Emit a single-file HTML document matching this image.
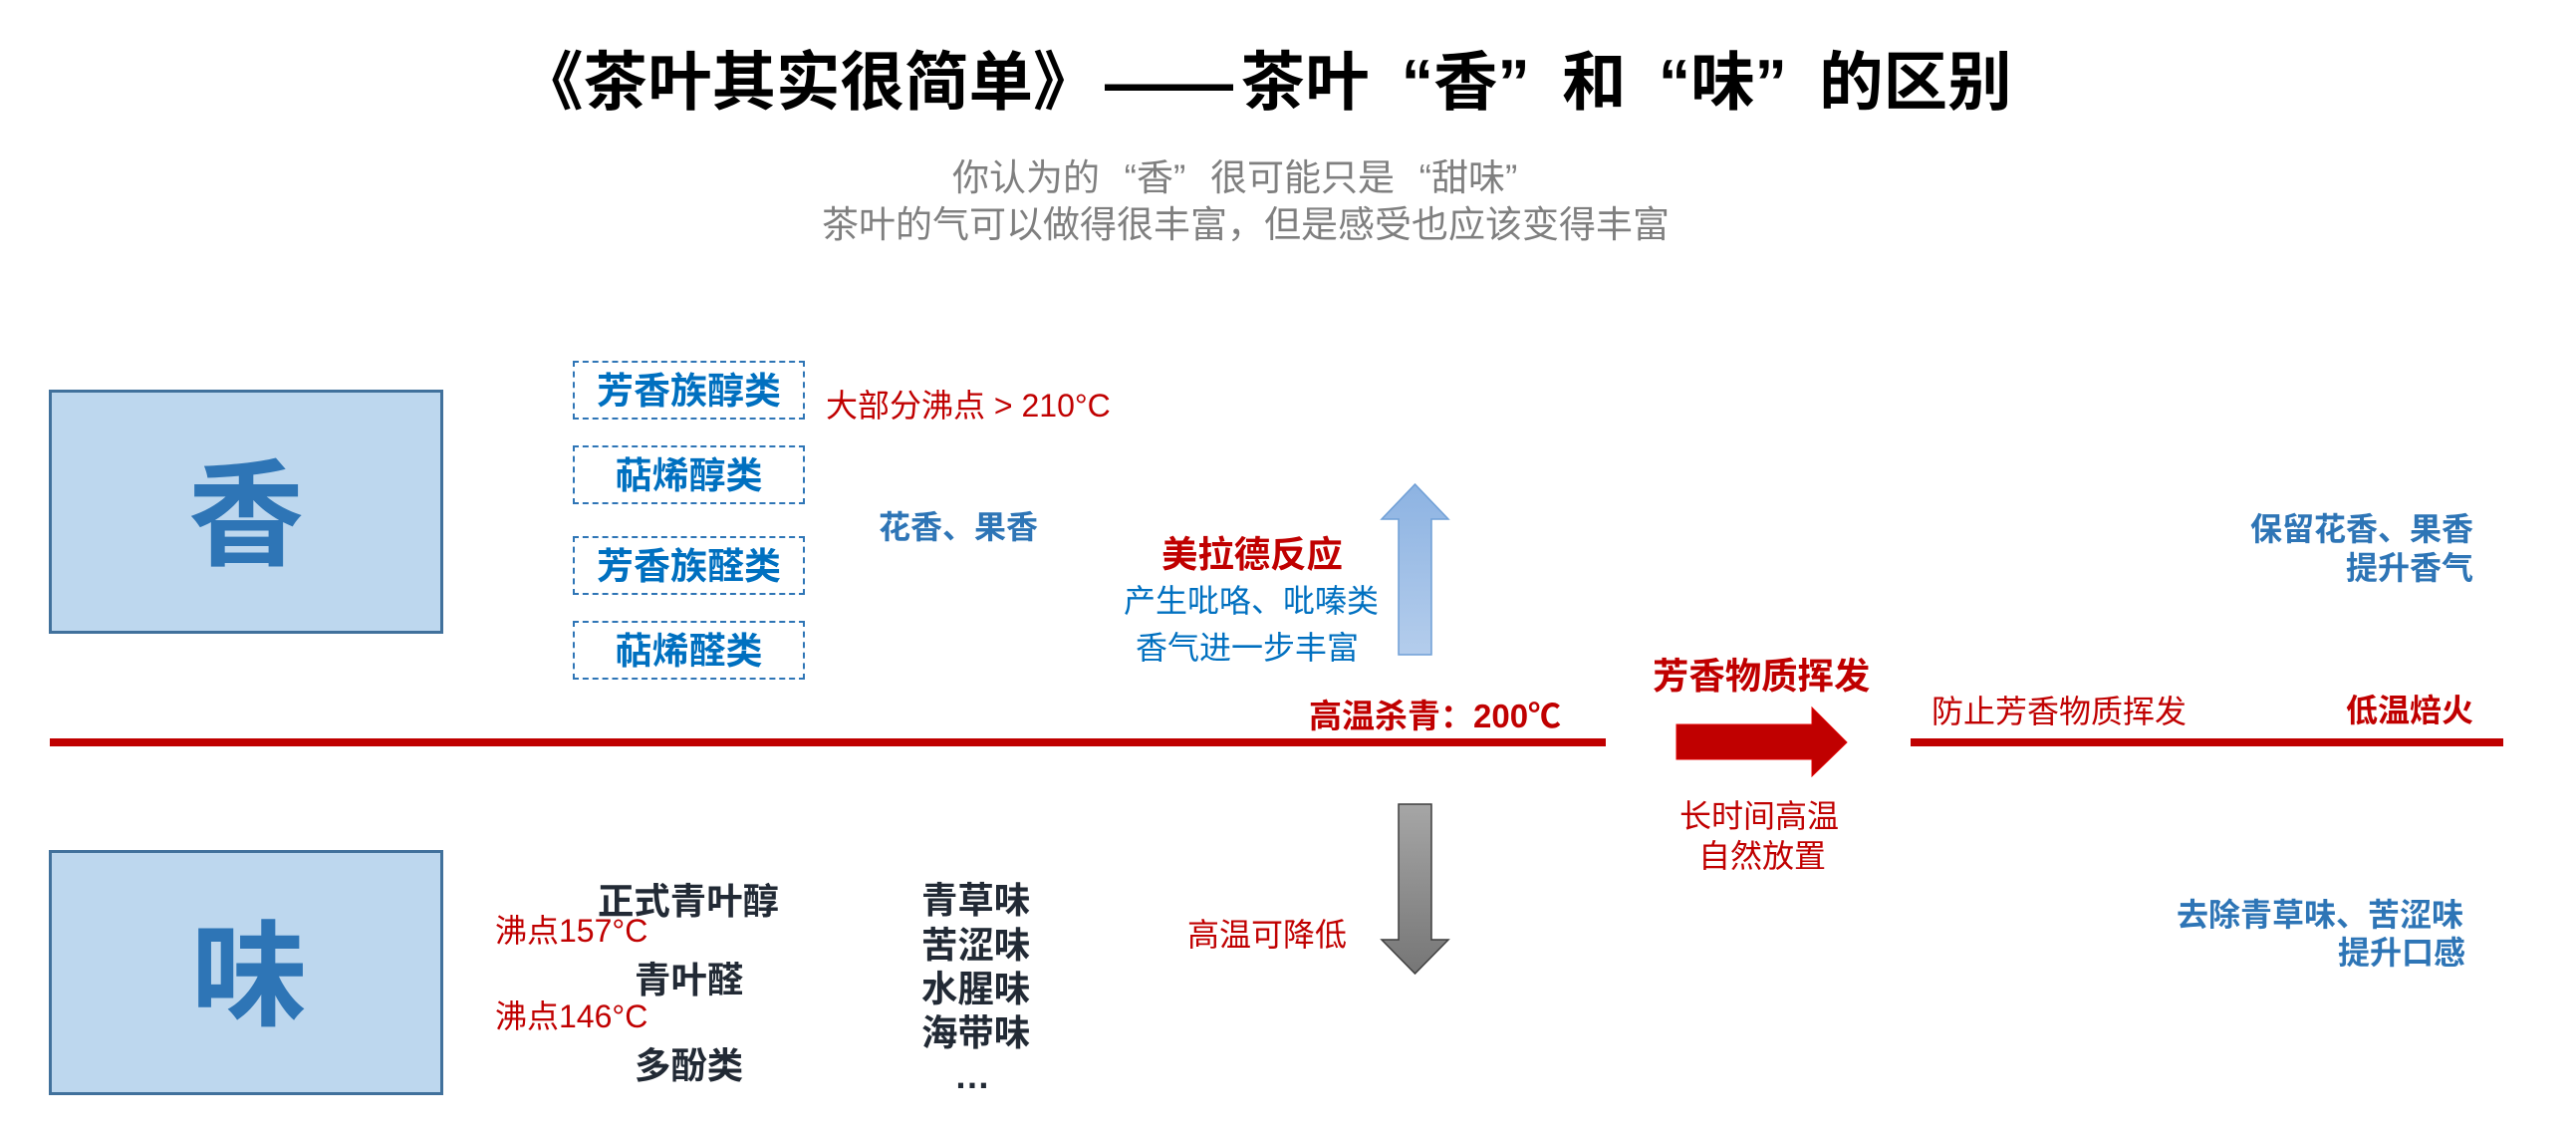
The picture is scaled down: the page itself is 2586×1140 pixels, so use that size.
<!DOCTYPE html>
<html><head><meta charset="utf-8">
<style>
html,body{margin:0;padding:0;background:#fff;}
#c{position:relative;width:2586px;height:1140px;overflow:hidden;background:#fff;font-family:"Liberation Sans","Noto Sans CJK SC",sans-serif;}
.t{position:absolute;white-space:nowrap;line-height:1;}
.b{font-weight:bold;}
.red{color:#c00000;}
.blu{color:#0070c0;}
.blu2{color:#2e75b6;}
.dk{color:#222a35;}
.f32{font-size:32px;}
.f36{font-size:36.4px;}
.ql{display:inline-block;width:1em;text-align:right;}
.qr{display:inline-block;width:1em;text-align:left;}
.box{position:absolute;box-sizing:border-box;background:#bdd7ee;border:3px solid #41719c;}
.db{position:absolute;box-sizing:border-box;border:2px dashed #2e75b6;width:233px;height:59px;left:575px;}
.dt{position:absolute;left:575px;width:233px;text-align:center;font-size:37px;font-weight:bold;color:#0070c0;line-height:1;white-space:nowrap;}
</style></head>
<body><div id="c">

<!-- Title -->
<div class="t b" style="left:521px;top:51px;font-size:64.5px;color:#000;">《茶叶其实很简单》<span style="display:inline-block;width:144px;text-align:center;">——</span>茶叶<span class="ql">“</span>香<span class="qr">”</span>和<span class="ql">“</span>味<span class="qr">”</span>的区别</div>

<!-- Subtitle -->
<div class="t" style="left:956px;top:160px;font-size:37px;color:#7f7f7f;">你认为的<span class="ql">“</span>香<span class="qr">”</span>很可能只是<span class="ql">“</span>甜味<span class="qr">”</span></div>
<div class="t" style="left:825px;top:207px;font-size:37px;color:#7f7f7f;">茶叶的气可以做得很丰富，但是感受也应该变得丰富</div>

<!-- Big boxes -->
<div class="box" style="left:49px;top:391px;width:396px;height:245px;"></div>
<div class="t b blu2" style="left:189px;top:460px;font-size:116px;">香</div>
<div class="box" style="left:49px;top:853px;width:396px;height:246px;"></div>
<div class="t b blu2" style="left:192px;top:922px;font-size:116px;">味</div>

<!-- Dashed boxes -->
<div class="db" style="top:362px;"></div>
<div class="dt" style="top:374px;">芳香族醇类</div>
<div class="db" style="top:447px;"></div>
<div class="dt" style="top:459px;">萜烯醇类</div>
<div class="db" style="top:538px;"></div>
<div class="dt" style="top:550px;">芳香族醛类</div>
<div class="db" style="top:623px;"></div>
<div class="dt" style="top:635px;">萜烯醛类</div>

<div class="t f32 red" style="left:829px;top:391px;">大部分沸点 &gt; 210°C</div>
<div class="t f32 b blu2" style="left:882px;top:513px;">花香、果香</div>

<!-- Shapes -->
<svg style="position:absolute;left:0;top:0;" width="2586" height="1140" viewBox="0 0 2586 1140">
  <defs>
    <linearGradient id="gu" x1="0" y1="0" x2="0" y2="1">
      <stop offset="0" stop-color="#8db3e2"/>
      <stop offset="1" stop-color="#b4cdec"/>
    </linearGradient>
    <linearGradient id="gd" x1="0" y1="0" x2="0" y2="1">
      <stop offset="0" stop-color="#a6a6a6"/>
      <stop offset="1" stop-color="#767676"/>
    </linearGradient>
  </defs>
  <rect x="50" y="741" width="1562" height="8" fill="#c00000"/>
  <rect x="1918" y="741" width="595" height="8" fill="#c00000"/>
  <polygon points="1404,657 1404,521 1387,521 1420.5,486 1454,521 1437,521 1437,657" fill="url(#gu)" stroke="#6f9fd6" stroke-width="1.5"/>
  <polygon points="1404,807 1437,807 1437,943 1454,943 1420.5,977 1387,943 1404,943" fill="url(#gd)" stroke="#3f3f3f" stroke-width="1.5"/>
  <polygon points="1683,727 1819,727 1819,710 1854,745 1819,779 1819,762 1683,762" fill="#c00000" stroke="#e00000" stroke-width="1"/>
</svg>

<div class="t f36 b red" style="left:1166px;top:539px;">美拉德反应</div>
<div class="t f32 blu" style="left:1128px;top:587px;">产生吡咯、吡嗪类</div>
<div class="t f32 blu" style="left:1140px;top:634px;">香气进一步丰富</div>
<div class="t b red" style="left:1314px;top:702px;font-size:33px;">高温杀青：200℃</div>

<div class="t f36 b red" style="left:1659px;top:661px;">芳香物质挥发</div>
<div class="t f32 red" style="left:1686px;top:803px;">长时间高温</div>
<div class="t f32 red" style="left:1705px;top:843px;">自然放置</div>

<div class="t f32 red" style="left:1939px;top:698px;">防止芳香物质挥发</div>
<div class="t f32 b red" style="left:2355px;top:697px;">低温焙火</div>
<div class="t f32 b blu2" style="left:2259px;top:515px;">保留花香、果香</div>
<div class="t f32 b blu2" style="left:2355px;top:554px;">提升香气</div>
<div class="t f32 b blu2" style="left:2185px;top:902px;">去除青草味、苦涩味</div>
<div class="t f32 b blu2" style="left:2347px;top:940px;">提升口感</div>

<!-- Bottom lists -->
<div class="t f36 b dk" style="left:600px;top:887px;">正式青叶醇</div>
<div class="t f32 red" style="left:497px;top:918px;">沸点157°C</div>
<div class="t f36 b dk" style="left:637px;top:966px;">青叶醛</div>
<div class="t f32 red" style="left:497px;top:1004px;">沸点146°C</div>
<div class="t f36 b dk" style="left:637px;top:1052px;">多酚类</div>

<div class="t f36 b dk" style="left:925px;top:886px;">青草味</div>
<div class="t f36 b dk" style="left:925px;top:931px;">苦涩味</div>
<div class="t f36 b dk" style="left:925px;top:975px;">水腥味</div>
<div class="t f36 b dk" style="left:925px;top:1019px;">海带味</div>
<div class="t b dk" style="left:958px;top:1062px;font-size:36px;">…</div>

<div class="t f32 red" style="left:1192px;top:922px;">高温可降低</div>

</div></body></html>
